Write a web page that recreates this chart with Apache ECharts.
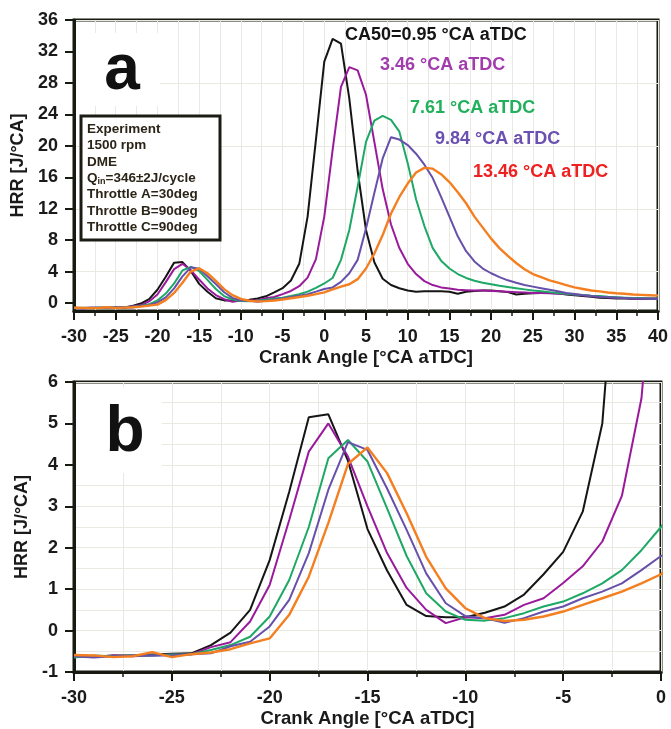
<!DOCTYPE html>
<html><head><meta charset="utf-8">
<script src="https://cdn.jsdelivr.net/npm/echarts@6/dist/echarts.min.js"></script>
<style>html,body{margin:0;padding:0;background:#fff}#c{width:671px;height:729px}</style>
</head><body><div id="c"></div>
<script>
const crankAngle = [-30,-29,-28,-27,-26,-25,-24,-23,-22,-21,-20,-19,-18,-17,-16,-15,-14,-13,-12,-11,-10,-9,-8,-7,-6,-5,-4,-3,-2,-1,0,1,2,3,4,5,6,7,8,9,10,11,12,13,14,15,16,17,18,19,20,21,22,23,24,25,26,27,28,29,30,31,32,33,34,35,36,37,38,39,40];
const seriesNames = ['CA50=0.95 °CA aTDC','3.46 °CA aTDC','7.61 °CA aTDC','9.84 °CA aTDC','13.46 °CA aTDC'];
const hrrCA50_095 = [-0.6,-0.63,-0.6,-0.6,-0.58,-0.56,-0.55,-0.35,-0.05,0.5,1.7,3.35,5.15,5.22,4.1,2.45,1.45,0.62,0.35,0.32,0.32,0.43,0.58,0.87,1.36,1.9,2.87,5.0,11.0,20.8,30.7,33.6,33.0,26.0,16.8,9.3,5.2,3.1,2.3,1.9,1.6,1.45,1.5,1.5,1.5,1.45,1.2,1.45,1.55,1.6,1.6,1.5,1.4,1.1,1.2,1.25,1.3,1.3,1.25,1.1,1.0,0.9,0.8,0.7,0.65,0.6,0.6,0.55,0.55,0.55,0.55];
const hrrCA50_346 = [-0.62,-0.64,-0.6,-0.62,-0.6,-0.58,-0.57,-0.4,-0.28,0.22,1.1,2.67,4.32,5.0,4.2,3.0,1.87,1.03,0.5,0.18,0.32,0.3,0.38,0.62,0.78,1.15,1.55,2.15,3.25,5.6,11.0,19.5,27.5,30.0,29.6,26.5,20.5,14.5,10.0,7.0,5.0,3.7,2.8,2.3,2.0,1.85,1.7,1.65,1.6,1.6,1.55,1.5,1.45,1.4,1.35,1.3,1.3,1.25,1.2,1.15,1.1,1.0,0.9,0.8,0.75,0.7,0.65,0.6,0.6,0.6,0.6];
const hrrCA50_761 = [-0.65,-0.6,-0.62,-0.6,-0.6,-0.58,-0.57,-0.47,-0.35,-0.15,0.34,1.22,2.5,4.16,4.6,4.08,2.95,1.8,0.9,0.46,0.26,0.24,0.3,0.42,0.58,0.7,0.9,1.14,1.46,1.94,2.5,3.2,5.5,9.3,14.8,20.5,23.2,23.8,23.3,21.8,17.8,13.2,9.8,7.0,5.4,4.4,3.7,3.2,2.85,2.6,2.4,2.2,2.05,1.9,1.75,1.6,1.5,1.4,1.3,1.2,1.1,1.05,0.95,0.9,0.8,0.75,0.7,0.65,0.65,0.6,0.6];
const hrrCA50_984 = [-0.62,-0.65,-0.62,-0.6,-0.6,-0.6,-0.57,-0.55,-0.38,-0.27,0.1,0.74,1.87,3.4,4.55,4.36,3.43,2.43,1.38,0.66,0.35,0.3,0.19,0.3,0.46,0.58,0.78,0.94,1.14,1.46,1.8,2.0,2.7,3.8,5.5,9.5,14.0,18.4,21.1,20.8,20.1,19.0,17.6,15.9,13.5,11.0,8.5,6.6,5.3,4.4,3.8,3.3,2.9,2.6,2.3,2.1,1.9,1.7,1.5,1.3,1.15,1.0,0.9,0.8,0.75,0.7,0.65,0.6,0.6,0.55,0.55];
const hrrCA50_1346 = [-0.59,-0.6,-0.64,-0.62,-0.52,-0.64,-0.57,-0.53,-0.45,-0.31,-0.19,0.38,1.3,2.6,4.02,4.42,3.8,2.83,1.78,1.02,0.54,0.3,0.23,0.26,0.34,0.46,0.62,0.78,0.94,1.14,1.36,1.74,2.1,2.4,3.05,4.4,6.3,8.65,11.4,13.5,15.2,16.6,17.2,17.1,16.4,15.4,14.1,12.7,11.0,9.6,8.2,7.0,6.0,5.1,4.3,3.7,3.3,2.9,2.6,2.3,2.0,1.8,1.6,1.5,1.35,1.25,1.2,1.1,1.05,1.0,0.95];
const yTicksA = [0,4,8,12,16,20,24,28,32,36];
const yTicksB = [-1,0,1,2,3,4,5,6];
const infoLines = ['Experiment','1500 rpm','DME','Q_in=346±2J/cycle','Throttle A=30deg','Throttle B=90deg','Throttle C=90deg'];

const allSeries = [hrrCA50_095, hrrCA50_346, hrrCA50_761, hrrCA50_984, hrrCA50_1346];
const lineColors = ['#151515','#9a1a9c','#1ea866','#6650aa','#f47f20'];
const labelColors = ['#151515','#a23cae','#22b05c','#6a50b0','#ee2020'];
const FONT = '"Liberation Sans", Arial, sans-serif';
const gridColor = '#e9e9e2';
const frame = '#161a10';

function xAxisCfg(idx, min, max) {
  return {
    type:'value', gridIndex: idx, min, max, interval:5,
    name:'Crank Angle [°CA aTDC]', nameLocation:'middle', nameGap: 37,
    nameTextStyle:{fontFamily:FONT, fontWeight:'bold', fontSize:18.5, color:'#1a1a1a'},
    axisLine:{show:true, onZero:false, lineStyle:{color:frame, width:3}},
    axisTick:{show:true, length:9, lineStyle:{color:frame, width:2}},
    minorTick:{show:true, splitNumber:2, length:5, lineStyle:{color:frame, width:1.5}},
    axisLabel:{fontFamily:FONT, fontWeight:'bold', fontSize:18, color:'#1a1a1a', margin:17},
    splitLine:{show:true, lineStyle:{color:gridColor, width:1}},
    minorSplitLine:{show:true, lineStyle:{color:gridColor, width:1}}
  };
}

const series = [];
allSeries.forEach((arr, i) => {
  const d = crankAngle.map((x, k) => [x, arr[k]]);
  [0,1].forEach(g => {
    series.push({
      type:'line', name: seriesNames[i], xAxisIndex:g, yAxisIndex:g, data:d,
      showSymbol:false, symbol:'none', clip:true,
      lineStyle:{color:lineColors[i], width: i===4 ? 2.4 : 2}, z: 2 + i
    });
  });
});

const chart = echarts.init(document.getElementById('c'), null, {renderer:'canvas'});
const annotations = [
  {text:seriesNames[0], x:345, y:35},
  {text:seriesNames[1], x:380, y:65},
  {text:seriesNames[2], x:410, y:108},
  {text:seriesNames[3], x:435, y:139},
  {text:seriesNames[4], x:473, y:172}
];
const graphics = [];
// panel letters with white backing
graphics.push({type:'rect', shape:{x:76,y:33,width:84,height:73}, style:{fill:'#fff'}, z:10});
graphics.push({type:'text', x:122, y:71, style:{text:'a', fontFamily:FONT, fontWeight:'bold', fontSize:64, fill:'#111', align:'center', verticalAlign:'middle'}, z:11});
graphics.push({type:'rect', shape:{x:76,y:387,width:86,height:86}, style:{fill:'#fff'}, z:10});
graphics.push({type:'text', x:125, y:433, style:{text:'b', fontFamily:FONT, fontWeight:'bold', fontSize:64, fill:'#111', align:'center', verticalAlign:'middle'}, z:11});
annotations.forEach((a, i) => {
  graphics.push({type:'text', x:a.x, y:a.y, style:{text:a.text, fontFamily:FONT, fontWeight:'bold', fontSize:18, fill:labelColors[i], verticalAlign:'middle'}, z:12});
});
// info box
graphics.push({type:'rect', shape:{x:81,y:116,width:139,height:124}, style:{fill:'#fff', stroke:'#1c1c14', lineWidth:3}, z:12});
infoLines.forEach((t, i) => {
  let txt;
  if (t.indexOf('Q_in') === 0) {
    txt = '{n|Q}{s|in}{n|' + t.slice(4) + '}';
  } else {
    txt = '{n|' + t + '}';
  }
  graphics.push({type:'text', x:87, y:129 + i*16.4, style:{text:txt, verticalAlign:'middle', rich:{
    n:{fontFamily:FONT, fontWeight:'bold', fontSize:13.5, fill:'#2b2418', lineHeight:16},
    s:{fontFamily:FONT, fontWeight:'bold', fontSize:9, fill:'#2b2418', verticalAlign:'bottom', padding:[7,0,0,0], lineHeight:16}
  }}, z:13});
});

const option = {
  backgroundColor:'#fff',
  animation:false,
  grid:[
    {left:74, right:10, top:20, height:291, show:true, borderColor:frame, borderWidth:3, backgroundColor:'transparent'},
    {left:74, right:10, top:382, height:290, show:true, borderColor:frame, borderWidth:3, backgroundColor:'transparent'}
  ],
  xAxis:[xAxisCfg(0,-30,40), xAxisCfg(1,-30,0)],
  yAxis:[
    {type:'value', gridIndex:0, min:-1, max:36, interval:1,
     name:'HRR [J/°CA]', nameLocation:'middle', nameGap:40, nameRotate:90,
     nameTextStyle:{fontFamily:FONT, fontWeight:'bold', fontSize:18, color:'#1a1a1a'},
     axisLine:{show:true, onZero:false, lineStyle:{color:frame, width:3}},
     axisTick:{show:true, length:9, customValues:yTicksA, lineStyle:{color:frame, width:2}},
     axisLabel:{fontFamily:FONT, fontWeight:'bold', fontSize:18, color:'#1a1a1a', margin:16, customValues:yTicksA},
     splitLine:{show:true, lineStyle:{color:['rgba(0,0,0,0)', gridColor], width:1}}
    },
    {type:'value', gridIndex:1, min:-1, max:6, interval:1,
     name:'HRR [J/°CA]', nameLocation:'middle', nameGap:40, nameRotate:90,
     nameTextStyle:{fontFamily:FONT, fontWeight:'bold', fontSize:18, color:'#1a1a1a'},
     axisLine:{show:true, onZero:false, lineStyle:{color:frame, width:3}},
     axisTick:{show:true, length:9, lineStyle:{color:frame, width:2}},
     minorTick:{show:false, splitNumber:2},
     axisLabel:{fontFamily:FONT, fontWeight:'bold', fontSize:18, color:'#1a1a1a', margin:16, customValues:yTicksB},
     splitLine:{show:true, lineStyle:{color:gridColor, width:1}},
     minorSplitLine:{show:true, lineStyle:{color:gridColor, width:1}}
    }
  ],
  series,
  graphic: graphics
};
chart.setOption(option);
</script></body></html>
